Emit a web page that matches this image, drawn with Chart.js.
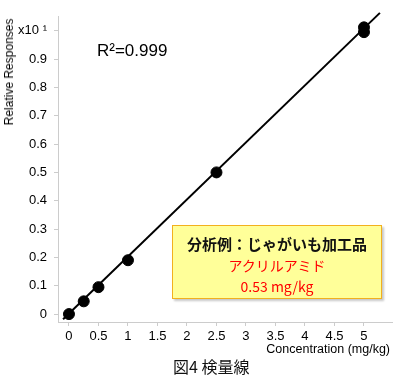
<!DOCTYPE html>
<html>
<head>
<meta charset="utf-8">
<script src="https://cdn.jsdelivr.net/npm/chart.js@4"></script>
<style>
  body { margin: 0; background: #fff; }
  #wrap { position: relative; width: 400px; height: 377px; font-family: "Liberation Sans", Arial, sans-serif; }
  #chart { position: absolute; left: 0; top: 0; }
  .txt { position: absolute; white-space: nowrap; color: #000; }
  #ytitle { left: 9px; top: 72px; font-size: 12px; transform: translate(-50%, -50%) rotate(-90deg); }
  #xtitle { right: 10px; top: 342px; font-size: 12.5px; }
  #r2 { left: 97px; top: 41px; font-size: 17px; }
  #caption { left: 173px; top: 356px; font-size: 16px; font-family: "Noto Sans CJK JP", sans-serif; line-height: 20px; color: #111; }
  #box { position: absolute; left: 172px; top: 225px; width: 208px; height: 72px;
         background: #ffff99; border: 1.5px solid #f2b01e; box-shadow: 2px 2px 2px #c8c8c8;
         font-family: "Noto Sans CJK JP", sans-serif; text-align: center; }
  #box .l1 { position: absolute; left: 0; right: 0; top: 7px; font-size: 15px; color: #111; font-weight: bold; }
  #box .l2 { position: absolute; left: 0; right: 0; top: 29px; font-size: 14px; color: #f00; }
  #box .l3 { position: absolute; left: 0; right: 0; top: 50px; font-size: 14px; color: #f00; }
</style>
</head>
<body>
<div id="wrap">
  <canvas id="chart" width="400" height="377"></canvas>
  <div class="txt" id="ytitle">Relative Responses</div>
  <div class="txt" id="xtitle">Concentration (mg/kg)</div>
  <div class="txt" id="r2">R²=0.999</div>
  <div id="box">
    <div class="l1">分析例：じゃがいも加工品</div>
    <div class="l2">アクリルアミド</div>
    <div class="l3">0.53 mg/kg</div>
  </div>
  <div class="txt" id="caption">図4 検量線</div>
</div>
<script>
// calibration points (mg/kg vs relative response, x10)
var concentrations = [0, 0.25, 0.5, 1, 2.5, 5, 5];
var responses = [0, 0.045, 0.095, 0.19, 0.5, 0.995, 1.012];

// regression line end points
var fitX = [-0.1, 5.27];
var fitY = [-0.018, 1.063];

var xTicks = [0, 0.5, 1, 1.5, 2, 2.5, 3, 3.5, 4, 4.5, 5];
var xTickLabels = ['0', '0.5', '1', '1.5', '2', '2.5', '3', '3.5', '4', '4.5', '5'];
var yTicks = [0, 0.1, 0.2, 0.3, 0.4, 0.5, 0.6, 0.7, 0.8, 0.9, 1.0];
var yTickLabels = ['0', '0.1', '0.2', '0.3', '0.4', '0.5', '0.6', '0.7', '0.8', '0.9', 'x10 ¹'];

var ctx = document.getElementById('chart').getContext('2d');

var points = concentrations.map(function (c, i) { return { x: c, y: responses[i] }; });
var fitLine = fitX.map(function (c, i) { return { x: c, y: fitY[i] }; });

var axisColor = '#cccccc';
var tickFont = { family: '"Liberation Sans", Arial, sans-serif', size: 13 };

new Chart(ctx, {
    type: 'scatter',
    data: {
        datasets: [{
            data: fitLine,
            showLine: true,
            borderColor: '#000',
            borderWidth: 2,
            pointRadius: 0,
            clip: false
        }, {
            data: points,
            backgroundColor: '#000',
            borderColor: '#000',
            pointRadius: 5.5,
            pointHoverRadius: 5.5
        }]
    },
    options: {
        responsive: false,
        animation: false,
        devicePixelRatio: 1,
        layout: { padding: { top: 16, right: 8, left: 0, bottom: 0 } },
        plugins: { legend: { display: false }, tooltip: { enabled: false } },
        scales: {
            x: {
                type: 'linear',
                min: -0.186,
                max: 5.475,
                afterFit: function (s) { s.height = 55; },
                afterBuildTicks: function (s) { s.ticks = xTicks.map(function (v) { return { value: v }; }); },
                border: { display: true, color: axisColor, width: 1 },
                grid: { drawOnChartArea: false, drawTicks: true, tickLength: 4, color: axisColor },
                ticks: {
                    color: '#000',
                    font: tickFont,
                    padding: 3,
                    maxRotation: 0,
                    autoSkip: false,
                    callback: function (v, i) { return xTickLabels[i]; }
                }
            },
            y: {
                type: 'linear',
                min: -0.028,
                max: 1.052,
                afterFit: function (s) { s.width = 58; },
                afterBuildTicks: function (s) { s.ticks = yTicks.map(function (v) { return { value: v }; }); },
                border: { display: true, color: axisColor, width: 1 },
                grid: { drawOnChartArea: false, drawTicks: true, tickLength: 4, color: axisColor },
                ticks: {
                    color: '#000',
                    font: tickFont,
                    padding: 7,
                    autoSkip: false,
                    callback: function (v, i) { return yTickLabels[i]; }
                }
            }
        }
    }
});
</script>
</body>
</html>
